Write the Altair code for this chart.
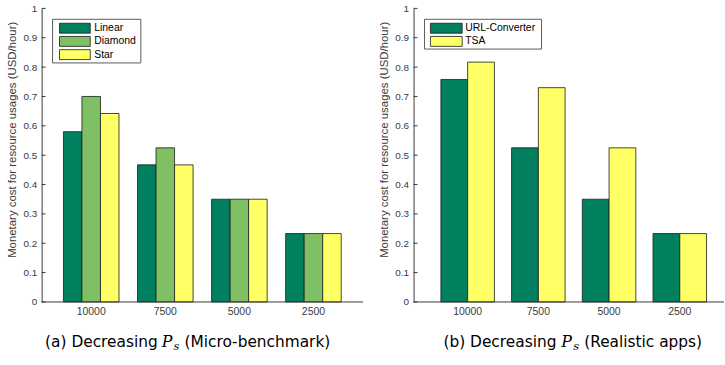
import altair as alt
import pandas as pd

# ---------------- data ----------------
groups = ["10000", "7500", "5000", "2500"]

left_series = ["Linear", "Diamond", "Star"]
linear = [0.58, 0.467, 0.35, 0.233]
diamond = [0.70, 0.525, 0.35, 0.233]
star = [0.642, 0.467, 0.35, 0.233]

right_series = ["URL-Converter", "TSA"]
url_converter = [0.758, 0.525, 0.35, 0.233]
tsa = [0.817, 0.73, 0.525, 0.233]

y_ticks = [0, 0.1, 0.2, 0.3, 0.4, 0.5, 0.6, 0.7, 0.8, 0.9, 1]

left_colors = ["#00805f", "#80c064", "#ffff66"]
right_colors = ["#00805f", "#ffff66"]

y_title = "Monetary cost for resource usages (USD/hour)"
left_caption = ["(a) Decreasing", "P", "s", "(Micro-benchmark)"]
right_caption = ["(b) Decreasing", "P", "s", "(Realistic apps)"]

AX = "#3a3a3a"
FONT = "Liberation Sans"
PLOT_H = 296


def make_df(series, values):
    rows = []
    for s, vals in zip(series, values):
        for g, v in zip(groups, vals):
            rows.append({"group": g, "series": s, "value": v})
    return pd.DataFrame(rows)


def panel(df, series, colors, width, xscale, legend_box, legend_sw, legend_text_x,
          caption, cap_pos):
    yaxis = alt.Axis(values=y_ticks, format="~g", ticks=False, grid=False,
                     domainColor=AX, domainWidth=1, labelColor=AX,
                     labelFont=FONT, labelFontSize=10, labelPadding=5,
                     title=y_title, titleFont=FONT, titleFontSize=11.5,
                     titleFontWeight="normal", titleColor=AX,
                     titlePadding=5, titleY=132)
    yscale = alt.Scale(domain=[0, 1], nice=False)

    bars = alt.Chart(df).mark_bar(stroke="#1a1a1a", strokeWidth=0.8).encode(
        x=alt.X("group:N", sort=groups, scale=xscale,
                axis=alt.Axis(title=None, labelAngle=0, ticks=False, domain=False,
                              labelColor=AX, labelFont=FONT,
                              labelFontSize=10.5, labelPadding=5)),
        xOffset=alt.XOffset("series:N", sort=series,
                            scale=alt.Scale(paddingInner=0, paddingOuter=0)),
        y=alt.Y("value:Q", scale=yscale, axis=yaxis),
        color=alt.Color("series:N", sort=series,
                        scale=alt.Scale(domain=series, range=colors), legend=None),
    )

    ticks = alt.Chart(pd.DataFrame({"value": y_ticks})).mark_rule(
        color=AX, strokeWidth=1).encode(
        y=alt.Y("value:Q", scale=yscale, axis=yaxis),
        x=alt.value(0), x2=alt.value(4))

    baseline = alt.Chart(pd.DataFrame({"n": [0]})).mark_rule(
        color=AX, strokeWidth=1).encode(
        x=alt.value(0), x2=alt.value(width), y=alt.value(PLOT_H))

    layers = [bars, ticks, baseline]

    bx0, by0, bx1, by1 = legend_box
    frame = alt.Chart(pd.DataFrame({"n": [0]})).mark_rect(
        fill="white", stroke="#333333", strokeWidth=0.8).encode(
        x=alt.value(bx0), x2=alt.value(bx1), y=alt.value(by0), y2=alt.value(by1))
    layers.append(frame)
    sx0, sx1, sy, sstep = legend_sw
    for i, (s, c) in enumerate(zip(series, colors)):
        yc = sy + sstep * i
        sw = alt.Chart(pd.DataFrame({"series": [s]})).mark_rect(
            fill=c, stroke="#1a1a1a", strokeWidth=0.8).encode(
            x=alt.value(sx0), x2=alt.value(sx1),
            y=alt.value(yc - 5), y2=alt.value(yc + 5))
        tx = alt.Chart(pd.DataFrame({"series": [s]})).mark_text(
            align="left", baseline="middle", font=FONT, fontSize=10.5,
            color="black").encode(
            text="series:N", x=alt.value(legend_text_x), y=alt.value(yc))
        layers += [sw, tx]

    # caption
    base_y = 341
    t0, tP, ts, t1 = caption
    x0, xP, xs, x1 = cap_pos
    cap_parts = [
        (t0, x0, "right", "DejaVu Sans", 15.5, "normal", base_y),
        (tP, xP, "left", "DejaVu Serif", 16, "italic", base_y),
        (ts, xs, "left", "DejaVu Serif", 11.5, "italic", base_y + 3),
        (t1, x1, "left", "DejaVu Sans", 15.5, "normal", base_y),
    ]
    for txt, xx, al, fnt, fs, sty, yy in cap_parts:
        layers.append(
            alt.Chart(pd.DataFrame({"t": [txt]})).mark_text(
                align=al, baseline="alphabetic", font=fnt, fontSize=fs,
                fontStyle=sty, color="black").encode(
                text="t:N", x=alt.value(xx), y=alt.value(yy)))

    return alt.layer(*layers).properties(width=width, height=PLOT_H)


left_df = make_df(left_series, [linear, diamond, star])
right_df = make_df(right_series, [url_converter, tsa])

left = panel(
    left_df, left_series, left_colors, 324,
    alt.Scale(paddingInner=0.25, paddingOuter=0.294),
    (11, 11, 100, 55), (18, 49, 20, 13.3), 53,
    left_caption, (117, 121, 133, 144))

right = panel(
    right_df, right_series, right_colors, 313,
    alt.Scale(paddingInner=0.243, paddingOuter=0.3165, align=0.61),
    (11, 11, 129, 41), (17, 49, 20, 13.3), 52,
    right_caption, (144, 149, 161, 172))

chart = alt.hconcat(left, right, spacing=15).resolve_scale(
    x="independent", xOffset="independent", y="independent", color="independent"
).properties(
    padding={"left": 7, "top": 2, "right": 0, "bottom": 0}
).configure_view(stroke=None).configure_axis(grid=False)

chart.save("out.html", embed_options={"renderer": "svg", "actions": False})
